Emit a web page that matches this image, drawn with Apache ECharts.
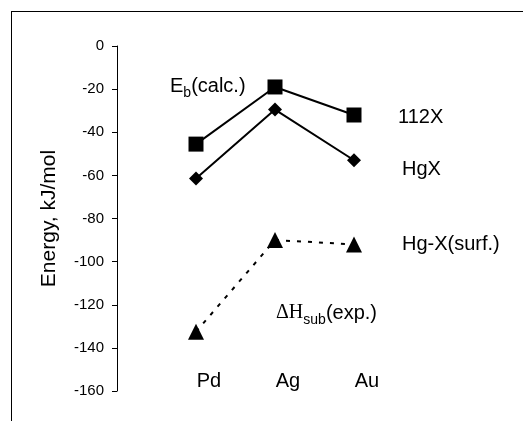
<!DOCTYPE html>
<html>
<head>
<meta charset="utf-8">
<script src="https://cdn.jsdelivr.net/npm/echarts@6/dist/echarts.min.js"></script>
<style>
html,body{margin:0;padding:0;background:#fff;}
#c{width:523px;height:421px;}
</style>
</head>
<body>
<div id="c"></div>
<script>
var categories = ['Pd', 'Ag', 'Au'];
var series112X = [-45.5, -19, -32];
var seriesHgX = [-61.5, -29.5, -53];
var seriesSurf = [-132.5, -90, -92];
var yTicks = {min: -160, max: 0, interval: 20};

var chart = echarts.init(document.getElementById('c'), null, {renderer: 'canvas'});
var FONT = 'Liberation Sans, Arial, sans-serif';
var SERIF = 'Liberation Serif, Times New Roman, serif';
var lineStyle = {color: '#000', width: 2};
function label(x, y, text, rich) {
  var st = {text: text, fill: '#000', verticalAlign: 'middle', align: 'left'};
  if (rich) { st.rich = rich; } else { st.font = '20px ' + FONT; }
  return {type: 'text', x: x, y: y, style: st};
}
chart.setOption({
  backgroundColor: '#fff',
  animation: false,
  grid: {left: 156.5, width: 237, top: 46, height: 345},
  xAxis: {
    type: 'category',
    data: categories,
    boundaryGap: true,
    axisLine: {show: false},
    axisTick: {show: false},
    axisLabel: {
      color: '#000', fontFamily: FONT, fontSize: 20,
      margin: -10, verticalAlign: 'middle', padding: [0, 0, 0, 26]
    },
    splitLine: {show: false}
  },
  yAxis: {
    type: 'value',
    min: yTicks.min, max: yTicks.max, interval: yTicks.interval,
    offset: 39.5,
    axisLine: {show: true, lineStyle: {color: '#000', width: 1}},
    axisTick: {show: true, inside: false, length: 5, lineStyle: {color: '#000'}},
    axisLabel: {color: '#000', fontFamily: FONT, fontSize: 15, margin: 13},
    splitLine: {show: false},
    name: 'Energy, kJ/mol',
    nameLocation: 'middle',
    nameGap: 57,
    nameTextStyle: {color: '#000', fontFamily: FONT, fontSize: 21}
  },
  series: [
    {type: 'line', name: '112X', data: series112X, symbol: 'rect', symbolSize: 15,
     itemStyle: {color: '#000'}, lineStyle: lineStyle},
    {type: 'line', name: 'HgX', data: seriesHgX, symbol: 'diamond', symbolSize: 14,
     itemStyle: {color: '#000'}, lineStyle: lineStyle},
    {type: 'line', name: 'Hg-X(surf.)', data: seriesSurf, symbol: 'triangle', symbolSize: 16,
     itemStyle: {color: '#000'}, lineStyle: {color: '#000', width: 2, type: [4, 7]}}
  ],
  graphic: [
    {type: 'line', shape: {x1: 11, y1: 11.5, x2: 523, y2: 11.5}, style: {stroke: '#000', lineWidth: 1}},
    {type: 'line', shape: {x1: 11.5, y1: 11, x2: 11.5, y2: 421}, style: {stroke: '#000', lineWidth: 1}},
    label(170, 86, '{m|E}{s|b}{m|(calc.)}', {
      m: {fontFamily: FONT, fontSize: 20, fill: '#000', verticalAlign: 'bottom'},
      s: {fontFamily: FONT, fontSize: 14, fill: '#000', verticalAlign: 'bottom', padding: [0, 0, -4, 0]}
    }),
    label(398, 117, '112X'),
    label(402, 169, 'HgX'),
    label(402, 244, 'Hg-X(surf.)'),
    label(276, 313, '{d|\u0394H}{s|sub}{m|(exp.)}', {
      d: {fontFamily: SERIF, fontSize: 20, fill: '#000', verticalAlign: 'bottom'},
      m: {fontFamily: FONT, fontSize: 20, fill: '#000', verticalAlign: 'bottom'},
      s: {fontFamily: FONT, fontSize: 14, fill: '#000', verticalAlign: 'bottom', padding: [0, 0, -4, 0]}
    })
  ]
});
</script>
</body>
</html>
